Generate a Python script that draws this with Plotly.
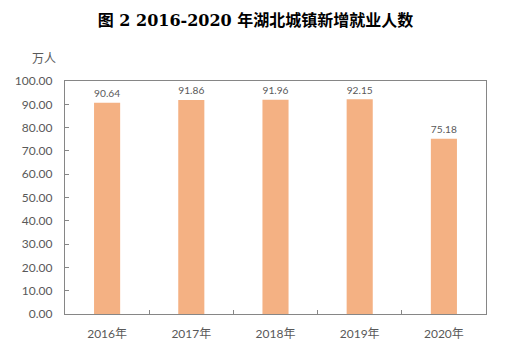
import plotly.graph_objects as go

categories = ["2016年", "2017年", "2018年", "2019年", "2020年"]
values = [90.64, 91.86, 91.96, 92.15, 75.18]
y_ticks = [0, 10, 20, 30, 40, 50, 60, 70, 80, 90, 100]
y_tick_labels = [f"{v:.2f}" for v in y_ticks]
title_text = "图 2 2016-2020 年湖北城镇新增就业人数"
unit_text = "万人"

W, H = 511, 353
ml, mr, mt, mb = 65, 25, 81, 36
font_lbl = "Lato, Noto Sans CJK SC, sans-serif"
grey = "#595959"

fig = go.Figure(go.Bar(
    x=categories, y=values,
    marker=dict(color="#F4B183", line=dict(width=0)),
    text=[f"{v:.2f}" for v in values],
    textposition="outside",
    textfont=dict(family=font_lbl, size=12, color=grey),
    cliponaxis=False,
))

fig.update_layout(
    width=W, height=H,
    margin=dict(l=ml, r=mr, t=mt, b=mb),
    paper_bgcolor="white", plot_bgcolor="white",
    bargap=0.69,
    showlegend=False,
    title=dict(text=f"<b>{title_text}</b>", x=0.5, xanchor="center",
               y=1 - 20 / H, yanchor="middle",
               font=dict(family="DejaVu Serif, Noto Sans CJK SC, serif", size=16, color="black")),
    annotations=[dict(text=unit_text, xref="paper", yref="paper",
                      x=-(ml - 30) / (W - ml - mr), xanchor="left",
                      y=1 + (mt - 58) / (H - mt - mb), yanchor="middle",
                      showarrow=False,
                      font=dict(family=font_lbl, size=12, color=grey))],
)

fig.update_xaxes(
    showline=True, linecolor="#868686", linewidth=1.3, mirror=True,
    ticks="inside", tickson="boundaries", ticklen=4, tickcolor="#868686",
    tickfont=dict(family=font_lbl, size=12, color=grey),
    ticklabelstandoff=8,
    showgrid=False,
)
fig.update_yaxes(
    range=[0, 100], tickvals=y_ticks, ticktext=y_tick_labels,
    showline=True, linecolor="#868686", linewidth=1.3, mirror=True,
    ticks="inside", ticklen=4, tickcolor="#868686",
    tickfont=dict(family=font_lbl, size=12, color=grey),
    ticklabelstandoff=9,
    showgrid=False, zeroline=False,
)

fig.write_html("out.html")
